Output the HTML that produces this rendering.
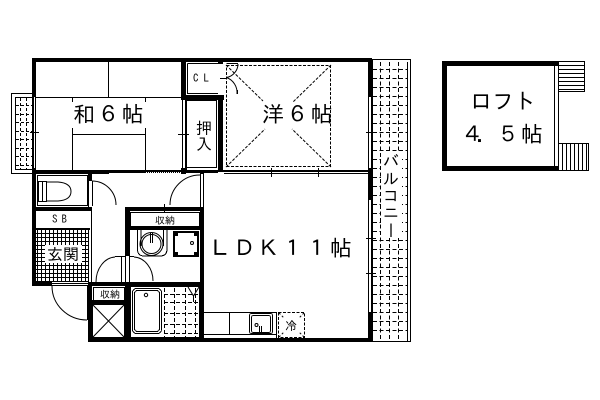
<!DOCTYPE html>
<html lang="ja"><head><meta charset="utf-8">
<style>
html,body{margin:0;padding:0;background:#fff}
#w{position:relative;width:600px;height:400px;overflow:hidden;background:#fff}
svg{position:absolute;left:0;top:0}
text{font-family:"IPAGothic","Liberation Sans","Noto Sans CJK JP",sans-serif;fill:#000}
#v{position:absolute;left:381px;top:153px;width:20px;font:16px/20px "IPAGothic","Noto Sans CJK JP",sans-serif;writing-mode:vertical-rl;letter-spacing:1px;color:#000}
</style></head><body><div id="w">
<svg width="600" height="400" viewBox="0 0 600 400" xmlns="http://www.w3.org/2000/svg">
<g fill="none" stroke="#000" stroke-width="1" shape-rendering="crispEdges">
<!-- left balcony -->
<rect x="11.5" y="93.5" width="21" height="80"/>
<rect x="15.5" y="97.5" width="17" height="72"/>
<path stroke-dasharray="3 2" d="M20.5 98V169M26.5 98V169M16 105.5H32M16 114.5H32M16 122.5H32M16 131.5H32M16 139.5H32M16 148.5H32M16 156.5H32M16 165.5H32"/>
<!-- right balcony -->
<rect x="372.5" y="59.5" width="38" height="282"/>
<path d="M407.5 62V342"/>
<path stroke-dasharray="4 2.5" d="M380.5 62V342M389.5 62V342M398.5 62V342M373 69.5H407M373 78.5H407M373 87.5H407M373 96.5H407M373 105.5H407M373 114.5H407M373 123.5H407M373 132.5H407M373 141.5H407M373 150.5H407M373 159.5H407M373 168.5H407M373 177.5H407M373 186.5H407M373 195.5H407M373 204.5H407M373 213.5H407M373 222.5H407M373 231.5H407M373 240.5H407M373 249.5H407M373 258.5H407M373 267.5H407M373 276.5H407M373 285.5H407M373 294.5H407M373 303.5H407M373 312.5H407M373 321.5H407M373 330.5H407"/>
<!-- genkan tile -->
<path d="M37.5 230V282M41.5 230V282M45.5 230V282M49.5 230V282M53.5 230V282M57.5 230V282M61.5 230V282M65.5 230V282M69.5 230V282M73.5 230V282M77.5 230V282M81.5 230V282M85.5 230V282M36 233.5H88M36 237.5H88M36 241.5H88M36 245.5H88M36 249.5H88M36 253.5H88M36 257.5H88M36 261.5H88M36 265.5H88M36 269.5H88M36 273.5H88M36 277.5H88M36 281.5H88"/>
<!-- tatami -->
<path d="M36 97.5H181M108.5 62V97M72.5 97V102M145.5 97V102M72.5 128V170M145.5 128V170M72 134.5H146M30 132.5H39M178 134.5H189M366 132.5H376M366 273.5H376M366 238.5H376"/>
<!-- CL -->
<path d="M187.5 63.5H218M187.5 63.5V93.5H218M220 78.5H226M226.5 63.5H238"/>
<path shape-rendering="auto" d="M226.5 77.5A14 14 0 0 0 238 64M226.5 77.5A16 16 0 0 1 237 94"/>
<path d="M237.5 90V94"/>
<!-- oshiire -->
<rect x="185.5" y="100.5" width="31" height="67"/>
<path d="M182.5 100V170"/>
<!-- dashed square -->
<rect x="226.5" y="65.5" width="104" height="101" stroke-dasharray="3 1.5"/>
<path stroke-dasharray="3 1.5" shape-rendering="auto" d="M226 65L263 101M331 65L293 102M226 167L265 129M331 167L292 129"/>
<path d="M271.5 168V177M318.5 168V177"/>
<!-- WC -->
<rect x="37.5" y="175.5" width="50" height="30"/>
<rect x="38.5" y="181.5" width="8" height="20"/>
<path d="M42.5 182V201"/>
<path shape-rendering="auto" d="M46.5 182H58Q71 183 71 191.5Q71 200 58 201H46.5"/>
<path d="M92.5 181V206"/>
<path shape-rendering="auto" d="M92 181A24 24 0 0 1 116 205M170 205A30 30 0 0 1 200 175"/>
<!-- entry right thin -->
<path d="M88.5 229V282M91.5 211V282"/>
<!-- storage 1 -->
<rect x="130.5" y="212.5" width="69" height="14"/>
<path d="M164.5 204V212"/>
<!-- wash -->
<path d="M137.5 230V249Q137.5 256 144 256H160Q167 256 167 249V230"/>
<path d="M141 230V246M163.5 230V246"/>
<circle cx="151.5" cy="244" r="11.5" shape-rendering="auto"/>
<circle cx="151.5" cy="244" r="9.5" shape-rendering="auto"/>
<path d="M150.5 233V243M152.5 233V243"/>
<rect x="173.5" y="231.5" width="25" height="25"/>
<rect x="174.5" y="232.5" width="23" height="23"/>
<circle cx="192" cy="243" r="1.5" shape-rendering="auto"/>
<!-- doors mid -->
<path d="M121.5 256V282M125.5 256V282M129.5 256V282M115 256.5H125M130 256.5H134"/>
<path shape-rendering="auto" d="M134 257A20 24 0 0 1 153 281M115 257A20 25 0 0 0 96 282"/>
<!-- entry door -->
<path d="M87.5 286V320M52 283.5H88M52 285.5H88"/>
<path shape-rendering="auto" d="M52 286A35 34 0 0 0 87 320"/>
<!-- storage 2 -->
<rect x="93.5" y="287.5" width="31" height="13"/>
<!-- X box -->
<rect x="92.5" y="304.5" width="32" height="33"/>
<path shape-rendering="auto" d="M92.5 304.5L124.5 337.5M124.5 304.5L92.5 337.5"/>
<!-- bath -->
<rect x="130.5" y="286.5" width="69" height="51"/>
<rect x="132.5" y="288.5" width="29" height="45" rx="4"/>
<rect x="134.5" y="290.5" width="25" height="41" rx="3"/>
<circle cx="146" cy="295" r="1.7" shape-rendering="auto"/>
<path stroke-dasharray="4 2" d="M164.5 288V337M174.5 288V337M185.5 288V337M195.5 288V337M164 294.5H199M164 302.5H199M164 313.5H199M164 324.5H199M164 333.5H199"/>
<path shape-rendering="auto" d="M188 287L193.5 296L199 287M193.5 296V302"/>
<!-- kitchen -->
<path d="M204 312.5H277M229.5 312V334M204 334.5H276M276.5 312V338"/>
<rect x="249.5" y="313.5" width="23" height="20" rx="2"/>
<rect x="251.5" y="315.5" width="19" height="17" rx="2"/>
<circle cx="256.5" cy="325" r="1.5" shape-rendering="auto"/>
<path d="M259.5 326V333M261.5 326V333"/>
<rect x="278.5" y="312.5" width="26" height="25" stroke-dasharray="3 1.5"/>
<path stroke-dasharray="2 2" d="M279 313L284 318M304 313L299 318M279 337L284 332M304 337L299 332" shape-rendering="auto"/>
<!-- window bars -->
<path d="M109 172.5H145M186 172.5H218M33.5 97V168M35.5 97V168M368.5 97V168M371.5 97V168M368.5 200V312M371.5 200V312M200.5 174V207M203.5 174V207M88.5 181V207M182.5 100V170M186.5 100V170"/>
<path stroke-dasharray="1 1" d="M145 172.5H181"/>
<!-- loft stairs -->
<rect x="558.5" y="61.5" width="26" height="30"/>
<path d="M559 65.5H584M559 69.5H584M559 73.5H584M559 77.5H584M559 81.5H584M559 85.5H584M559 89.5H584"/>
<rect x="558.5" y="143.5" width="30" height="27"/>
<path d="M562.5 144V170M566.5 144V170M570.5 144V170M574.5 144V170M578.5 144V170M582.5 144V170M586.5 144V170"/>
<path d="M554.5 66V166M558.5 61V171"/>
</g>
<g fill="#000" shape-rendering="crispEdges">
<rect x="45" y="245" width="37" height="18" fill="#fff"/>
<!-- washer corners -->
<rect x="174" y="232" width="4" height="4"/>
<rect x="194" y="232" width="4" height="4"/>
<rect x="174" y="252" width="4" height="4"/>
<rect x="194" y="252" width="4" height="4"/>
<!-- walls -->
<rect x="32" y="58" width="340" height="4"/>
<rect x="32" y="62" width="4" height="35"/>
<rect x="32" y="168" width="4" height="118"/>
<rect x="181" y="62" width="5" height="38"/>
<rect x="181" y="95" width="43" height="5"/>
<rect x="218" y="95" width="5" height="77"/>
<rect x="218" y="60" width="5" height="4"/>
<rect x="368" y="62" width="4" height="35"/>
<rect x="368" y="168" width="4" height="32"/>
<rect x="368" y="312" width="4" height="30"/>
<rect x="32" y="170" width="77" height="4"/>
<rect x="109" y="170" width="72" height="2"/>
<rect x="181" y="168" width="5" height="6"/>
<rect x="186" y="170" width="182" height="2"/>
<rect x="224" y="173" width="144" height="1"/>
<rect x="88" y="174" width="4" height="7"/>
<rect x="200" y="170" width="4" height="4"/>
<rect x="32" y="207" width="60" height="4"/>
<rect x="32" y="228" width="58" height="2"/>
<rect x="32" y="282" width="20" height="4"/>
<rect x="88" y="282" width="116" height="4"/>
<rect x="88" y="286" width="4" height="56"/>
<rect x="88" y="338" width="284" height="4"/>
<rect x="125" y="207" width="5" height="49"/>
<rect x="125" y="282" width="5" height="60"/>
<rect x="125" y="207" width="79" height="4"/>
<rect x="125" y="227" width="79" height="3"/>
<rect x="200" y="207" width="4" height="135"/>
<rect x="92" y="300" width="33" height="4"/>
<rect x="442" y="61" width="117" height="5"/>
<rect x="442" y="61" width="5" height="110"/>
<rect x="442" y="166" width="117" height="5"/>
</g>
<g>
<text x="73" y="122" font-size="22" letter-spacing="2.4">和６帖</text>
<text x="262" y="122" font-size="22" letter-spacing="2.4">洋６帖</text>
<text x="209" y="256" font-size="22" letter-spacing="2.2">ＬＤＫ１１帖</text>
<text x="470" y="109" font-size="22" letter-spacing="0">ロフト</text>
<text x="462 476 497 521" y="142" font-size="22">４．５帖</text>
<text x="196" y="134" font-size="16">押</text>
<text x="196" y="150" font-size="16">入</text>
<text x="193" y="82" font-size="11" letter-spacing="5">CL</text>
<text x="52" y="223" font-size="11" letter-spacing="4">SB</text>
<text x="47" y="260" font-size="16">玄関</text>
<text x="155" y="224" font-size="10">収納</text>
<text x="100" y="298" font-size="10">収納</text>
<text x="285" y="330" font-size="12">冷</text>
</g>
<rect x="381" y="153" width="21" height="85" fill="#fff"/>
</svg>
<div id="v">バルコニー</div>
</div></body></html>
